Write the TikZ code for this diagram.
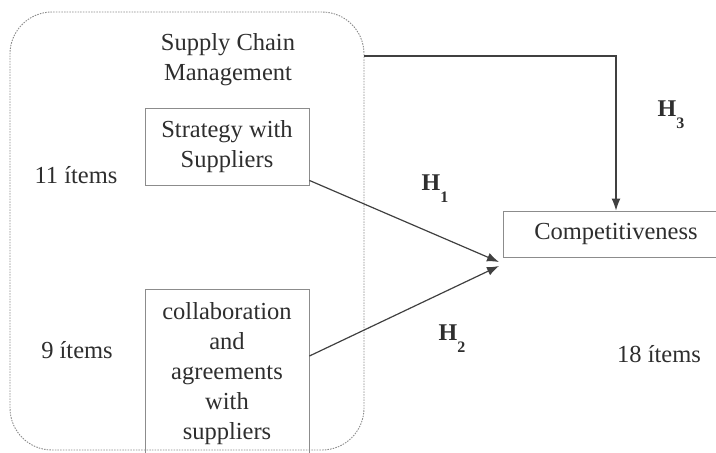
\documentclass[tikz,border=0pt]{standalone}
\usepackage{fontspec}
\setmainfont{Liberation Serif}
\usetikzlibrary{arrows.meta}
\definecolor{ink}{HTML}{2e2e2e}
\definecolor{edge}{HTML}{404040}
\definecolor{frame}{HTML}{8c8c8c}
\definecolor{dots}{HTML}{8a8a8a}
\newcommand{\hyp}[1]{\textbf{H\raisebox{-12pt}{\fontsize{16}{16}\selectfont #1}}}
\begin{document}
\begin{tikzpicture}[x=1pt,y=-1pt,>={Latex[length=12pt,width=9pt]}]
\tikzstyle{construct}=[draw=frame, line width=0.9pt, rectangle, inner sep=0pt, align=center, text=ink]
\tikzstyle{note}=[text=ink, inner sep=0pt]
\tikzstyle{link}=[draw=edge, line width=1.2pt, ->]
\fontsize{24.5}{30}\selectfont
\useasboundingbox (0,0) rectangle (716,453);

% latent construct group
\node[draw=dots, line width=0.9pt, dash pattern=on 1.5pt off 1.2pt, rounded corners=42pt,
      minimum width=354pt, minimum height=438pt, inner sep=0pt] (SCM) at (187,231) {};
\node[note, align=center] (title) at (228,60) {Supply Chain\\Management};

\node[construct, minimum width=164pt, minimum height=77pt]  (SWS)  at (227,146.5) {Strategy with\\Suppliers};
\node[construct, minimum width=164pt, minimum height=170pt] (CAS)  at (227,374)   {collaboration\\and\\agreements\\with\\suppliers};
\node[construct, minimum width=226pt, minimum height=46pt]  (COMP) at (616,234)   {Competitiveness};

\node[note] (n11) at (76,175)  {11 ítems};
\node[note] (n9)  at (77,350)  {9 ítems};
\node[note] (n18) at (659,354) {18 ítems};

\node[note, font=\fontsize{24}{24}\selectfont] (H1) at (435,189) {\hyp{1}};
\node[note, font=\fontsize{24}{24}\selectfont] (H2) at (452,339) {\hyp{2}};
\node[note, font=\fontsize{24}{24}\selectfont] (H3) at (671,115) {\hyp{3}};

\coordinate (meet1) at (499,262);
\coordinate (meet2) at (499,266);
\coordinate (start3) at (SCM.east |- 0,56);

\draw[link] ([yshift=5pt]SWS.south east) -- (meet1);
\draw[link] ([yshift=18pt]CAS.east) -- (meet2);
\draw[link] (start3) -| (COMP.north);
\end{tikzpicture}
\end{document}
